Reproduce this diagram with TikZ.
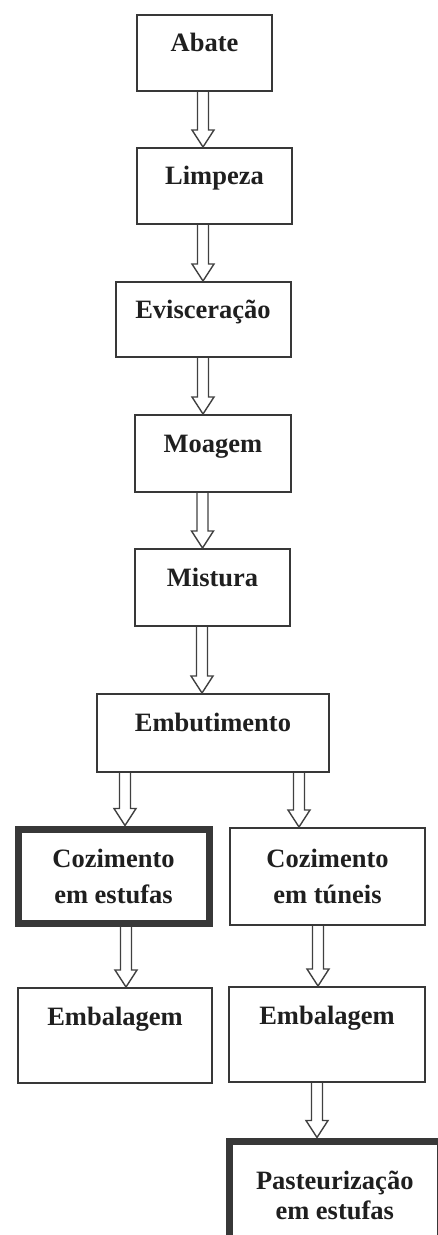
\documentclass[tikz,border=0pt]{standalone}
\usepackage{fontspec}
\setmainfont{Liberation Serif}
\usetikzlibrary{calc}

\begin{document}
\begin{tikzpicture}[x=0.5pt, y=-0.5pt,
  stage/.style={draw=black!78, line width=1pt, inner sep=0pt, text=black!88,
    font=\fontsize{13.25}{18}\selectfont\bfseries},
  oneline/.style={stage, text height=18.5pt},
  heavy/.style={line width=3.5pt},
  flowarrow/.style={draw=black!75, line width=0.7pt, line join=miter}]
\useasboundingbox (0,0) rectangle (438,1235);
\clip (0,0) rectangle (438,1235);
% main line
\node[oneline, minimum width=67.5pt, text depth=19.5pt] (abate) at (204.5,53) {Abate};
\node[oneline, minimum width=77.5pt, text depth=19.5pt] (limpeza) at (214.5,186) {Limpeza};
\node[oneline, minimum width=87.5pt, text depth=19pt] (evisceracao) at (203,319.5) {Evisceração};
\node[oneline, minimum width=78pt, text depth=20pt] (moagem) at (213,453.5) {Moagem};
\node[oneline, minimum width=77.5pt, text depth=20pt] (mistura) at (212.5,587.5) {Mistura};
\node[oneline, minimum width=116pt, text depth=20.5pt] (embutimento) at (213,733) {Embutimento};
% two branches
\node[stage, heavy, align=center, minimum width=95.5pt, minimum height=47pt] (cozestufa) at (113.5,876) {Cozimento\\em estufas};
\node[stage, align=center, minimum width=97.5pt, minimum height=48.5pt] (coztunel) at (327.5,876.5) {Cozimento\\em túneis};
\node[oneline, minimum width=97pt, text depth=29pt] (embalagemA) at (115,1035.5) {Embalagem};
\node[oneline, minimum width=98pt, text depth=29pt] (embalagemB) at (327,1034.5) {Embalagem};
\node[stage, heavy, align=center, minimum width=105.25pt, minimum height=54pt] (pasteur) at (334.75,1195) {Pasteurização\\[-3pt]em estufas};
% hollow arrows
\foreach \src/\dst/\ax in {abate/limpeza/203, limpeza/evisceracao/203, evisceracao/moagem/203,
    moagem/mistura/202.5, mistura/embutimento/202, embutimento/cozestufa/125,
    embutimento/coztunel/299, cozestufa/embalagemA/126, coztunel/embalagemB/318,
    embalagemB/pasteur/317} {
  \path (\ax,0) coordinate (col);
  \draw[flowarrow] ($(\src.south -| col)+(-5.5,0)$) -- ($(\dst.north -| col)+(-5.5,-17)$)
    -- ++(-5.5,0) -- (\dst.north -| col) -- ($(\dst.north -| col)+(11,-17)$)
    -- ++(-5.5,0) -- ($(\src.south -| col)+(5.5,0)$);
}
\end{tikzpicture}
\end{document}
